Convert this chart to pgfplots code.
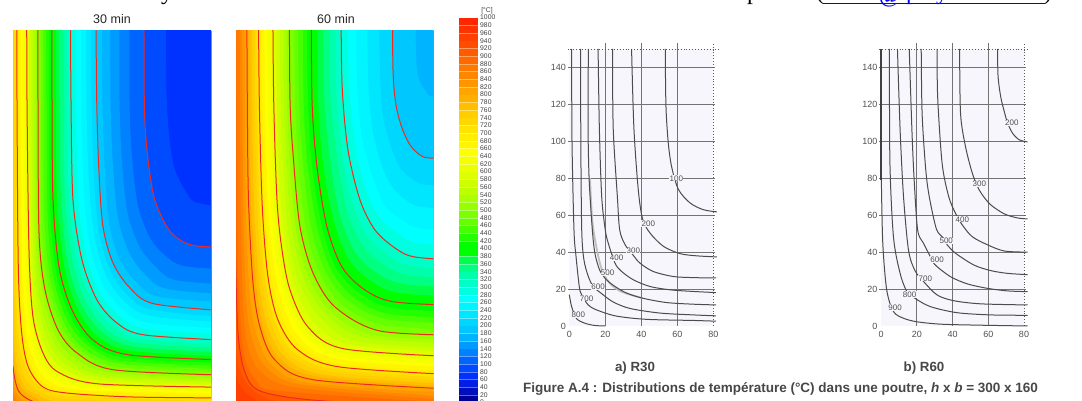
\documentclass[border=0pt]{standalone}
\usepackage{fontspec}
\setmainfont{Liberation Sans}
\newfontfamily\serifb{Liberation Serif}
\usepackage{pgfplots}
\pgfplotsset{compat=1.18}
\definecolor{c0}{RGB}{0,0,150}\definecolor{c20}{RGB}{0,15,190}\definecolor{c40}{RGB}{0,30,230}\definecolor{c60}{RGB}{0,50,255}\definecolor{c80}{RGB}{0,75,255}
\definecolor{c100}{RGB}{0,100,255}\definecolor{c120}{RGB}{0,130,255}\definecolor{c140}{RGB}{0,155,255}\definecolor{c160}{RGB}{0,180,255}\definecolor{c180}{RGB}{0,200,255}
\definecolor{c200}{RGB}{0,215,255}\definecolor{c220}{RGB}{0,230,255}\definecolor{c240}{RGB}{0,245,255}\definecolor{c260}{RGB}{0,255,255}\definecolor{c280}{RGB}{0,255,225}
\definecolor{c300}{RGB}{0,255,200}\definecolor{c320}{RGB}{0,255,170}\definecolor{c340}{RGB}{0,255,130}\definecolor{c360}{RGB}{0,255,70}\definecolor{c380}{RGB}{0,255,0}
\definecolor{c400}{RGB}{0,255,0}\definecolor{c420}{RGB}{35,255,0}\definecolor{c440}{RGB}{70,255,0}\definecolor{c460}{RGB}{100,255,0}\definecolor{c480}{RGB}{125,255,0}
\definecolor{c500}{RGB}{150,255,0}\definecolor{c520}{RGB}{172,255,0}\definecolor{c540}{RGB}{190,255,0}\definecolor{c560}{RGB}{205,255,0}\definecolor{c580}{RGB}{222,255,0}
\definecolor{c600}{RGB}{235,255,0}\definecolor{c620}{RGB}{245,255,0}\definecolor{c640}{RGB}{255,255,0}\definecolor{c660}{RGB}{255,245,0}\definecolor{c680}{RGB}{255,238,0}
\definecolor{c700}{RGB}{255,228,0}\definecolor{c720}{RGB}{255,215,0}\definecolor{c740}{RGB}{255,205,0}\definecolor{c760}{RGB}{255,190,0}\definecolor{c780}{RGB}{255,175,0}
\definecolor{c800}{RGB}{255,165,0}\definecolor{c820}{RGB}{255,150,0}\definecolor{c840}{RGB}{255,135,0}\definecolor{c860}{RGB}{255,120,0}\definecolor{c880}{RGB}{255,105,0}
\definecolor{c900}{RGB}{255,90,0}\definecolor{c920}{RGB}{255,77,0}\definecolor{c940}{RGB}{255,64,0}\definecolor{c960}{RGB}{255,50,0}\definecolor{c980}{RGB}{255,38,0}
\definecolor{redline}{RGB}{238,42,30}
\definecolor{scan}{RGB}{80,80,80}
\definecolor{paperb}{RGB}{246,246,252}
% filled isotherms: colour, x at the top, y at the right, points between
\newcommand\iA[4]{\addplot[fill=#1,draw=none,smooth] coordinates {(#2,-60)(#2,-20)#4(240,#3)(300,#3)(300,700)(-100,700)(-100,-60)};}
\newcommand\lA[4]{\iA{#1}{#2}{#3}{#4}\addplot[redline,line width=1pt,smooth] coordinates {(#2,-20)#4(240,#3)};}
\newcommand\iB[4]{\addplot[fill=#1,draw=none,smooth] coordinates {(#2,-60)(#2,-20)#4(470,#3)(530,#3)(530,700)(200,700)(200,-60)};}
\newcommand\lB[4]{\iB{#1}{#2}{#3}{#4}\addplot[redline,line width=1pt,smooth] coordinates {(#2,-20)#4(470,#3)};}
\newcommand\band[3]{\addplot[fill=#1,draw=none] coordinates {(0,#2)(1,#2)(1,#3)(0,#3)};\addplot[white,opacity=.4,line width=.5pt] coordinates {(0,#3)(1,#3)};}
\pgfplotsset{
 panel/.style={scale only axis,xtick=\empty,ytick=\empty,y dir=reverse,anchor=south west,
   axis line style={gray!80,line width=.6pt}},
 scanaxis/.style={scale only axis,anchor=south west,xmin=0,xmax=80,ymin=0,ymax=150,clip=false,
   axis x line=bottom,axis y line=left,axis line style={-,scan,line width=1pt},
   xtick={0,20,40,60,80},ytick={0,20,40,60,80,100,120,140},major tick length=0pt,
   tick label style={font=\fontsize{9}{10}\selectfont,text=scan},
   xticklabel style={yshift=-2pt},
   /pgf/number format/assume math mode=true},
}
\tikzset{
 ctr/.style={draw=black!70,line width=1pt,smooth},
 gl/.style={draw=black!55,line width=1pt},
 dl/.style={draw=black!65,line width=.9pt,dotted},
 lab/.style={font=\fontsize{8}{9}\selectfont,text=scan,fill=paperb,inner sep=.3pt},
}
\begin{document}
\begin{tikzpicture}[x=1pt,y=1pt]
\useasboundingbox (0,0) rectangle (1082,401);
% ---------- 30 min
\begin{axis}[panel,at={(13pt,0pt)},width=198pt,height=370pt,xmin=13,xmax=211,ymin=31,ymax=401]
\addplot[fill=c60,draw=none] coordinates {(0,0)(300,0)(300,500)(0,500)};
\iA{c80}{165.7}{208}{(166.7,100)(173,163)(186.7,193)(198,203)}
\lA{c100}{144}{248}{(144.3,100)(147,150)(154,197)(167,227)(180,240)(197,246)}
\iA{c120}{129.3}{270}{(129.5,100)(132,157)(138,206)(150,238)(164.5,255)(184,266)}
\iA{c140}{119.3}{285}{(119.5,100)(122,162)(127.5,213)(139,246)(154,265)(175,280)}
\iA{c160}{110}{295}{(110.5,100)(113,166)(118,218)(129,252.5)(144.5,274)(167,289)}
\iA{c180}{101.7}{303}{(102.4,100)(104.8,170)(109,223)(119.5,259)(136,282)(160,297)}
\lA{c200}{95.7}{312}{(96.7,100)(99,173)(103,227)(113,263)(130,288)(155,304)}
\iA{c220}{91}{318}{(91.5,100)(94,178)(99,234)(110,270)(127,295)(153,310)}
\iA{c240}{86}{323.5}{(86.4,100)(89,184)(95,240)(107,278)(125,302)(151,316)}
\iA{c260}{81}{329.5}{(81.3,100)(83.5,189)(90,247)(103,285)(122,309)(149,323)}
\iA{c280}{76}{335}{(76.2,100)(78,195)(86,253)(100,293)(120,316)(147,329)}
\lA{c300}{70.3}{341}{(71,100)(73,200)(82,260)(97,300)(117,323)(145,335)}
\iA{c320}{66.5}{345}{(67,100)(69,200)(77,261)(92,302)(112,326)(142,339)}
\iA{c340}{63}{349}{(63.5,100)(65,200)(73,263)(87,304)(107,330)(139,343)}
\iA{c360}{59.5}{353}{(59.5,100)(61,200)(68,264)(82,306)(103,333)(136,347)}
\iA{c380}{55.5}{357}{(56,100)(57,200)(64,266)(77,308)(98,337)(133,351)}
\lA{c400}{51.7}{360.5}{(52,100)(53,200)(59,267)(72,310)(93,340)(130,355)}
\iA{c420}{49}{363.5}{(49,100)(50,207)(56,272)(69,314)(90,343)(127,358)}
\iA{c440}{46}{366.5}{(46.5,100)(47.5,213)(53,276)(66,318)(87,345)(124,361)}
\iA{c460}{43}{369.5}{(43.5,100)(44.5,220)(50.5,281)(63.5,322)(83,348)(121,364)}
\iA{c480}{40.5}{372.5}{(41,100)(42,227)(48,285)(61,326)(80,350)(118,367)}
\lA{c500}{37.7}{375.5}{(38,100)(39,233)(45,290)(58,330)(77,353)(115,370)}
\iA{c520}{35.5}{378}{(36,100)(37,236)(43,295)(55,335)(73,357)(112,373)}
\iA{c540}{33.5}{380.5}{(33.5,100)(35,240)(40,301)(52,339)(69,361)(109,376)}
\iA{c560}{31}{383}{(31.5,100)(33,243)(38,306)(49,344)(65,364)(106,378)}
\iA{c580}{29}{385}{(29,100)(31,247)(35,312)(46,348)(62,368)(103,381)}
\lA{c600}{26.7}{387.5}{(27,100)(29,250)(33,317)(43,353)(58,372)(100,384)}
\iA{c620}{24.7}{389.5}{(25,100)(27,253)(31,320)(40,356)(55,375)(95,386)}
\iA{c640}{22.7}{391.5}{(23,100)(25,257)(29,323)(37,359)(52,378)(90,388)}
\iA{c660}{20.7}{393.5}{(21,100)(22,260)(26,327)(34,361)(49,381)(85,390)}
\iA{c680}{18.7}{396}{(19,100)(20,264)(24,330)(31,364)(46,384)(80,391.5)}
\lA{c700}{16.7}{398}{(17,100)(18.3,267)(21.7,333)(28.3,367)(43,387)(66.7,393)(133,397)}
\iA{c720}{15.5}{402}{(15.5,100)(16,280)(19,340)(25,365)(34,382)(50,391)(72,396)}
\iA{c740}{14}{406}{(14,100)(14.5,295)(17,345)(22,370)(30,385)(45,394)(70,399)}
\iA{c760}{12}{410}{(12.2,200)(12.5,300)(14.5,350)(19,374)(26,388)(40,396)(65,402)}
\iA{c780}{11}{412}{(11.2,200)(11.5,330)(13.5,358)(17,378)(23,390)(36,398)(60,404)}
\lA{c800}{10}{415}{(10.5,340)(13,367)(15.7,383)(20,393)(32,401)(60,408)}
\iA{c820}{10}{420}{(10,345)(13,378)(16,392)(24,401)(50,410)}
\iA{c840}{10}{425}{(10,375)(13,392)(19,402)(40,412)}
\end{axis}
% ---------- 60 min
\begin{axis}[panel,at={(236pt,0pt)},width=197.5pt,height=370pt,xmin=236,xmax=433.5,ymin=31,ymax=401]
\addplot[fill=c160,draw=none] coordinates {(200,0)(500,0)(500,500)(200,500)};
\iB{c180}{415}{98}{(416.7,67)(425,90)(433.7,97)}
\lB{c200}{392.3}{159}{(393,70)(396,105)(402,128)(410,145)(420,155)(430,158)}
\iB{c220}{378.5}{186}{(380,73)(383,117)(391,147)(400,168)(413,180)(426,185)}
\iB{c240}{367}{210}{(368,76)(372,127)(381,164)(392,187)(407,201)(422,207)}
\iB{c260}{356}{232}{(357,79)(362,137)(373,178)(385,206)(402,220)(419,228)}
\iB{c280}{348}{247}{(349,81)(355,144)(366,190)(380,218)(399,234)(417,243)}
\lB{c300}{341}{261}{(342,83)(348,150)(360,200)(375,230)(395,248)(415,257)}
\iB{c320}{335}{270}{(336,86)(342,153)(353,205)(368,237)(389,256)(411,266)}
\iB{c340}{329}{279}{(330,90)(337,157)(347,211)(362,244)(383,264)(407,275)}
\iB{c360}{323}{288}{(324,93)(330,160)(340,216)(355,252)(377,273)(403,284)}
\iB{c380}{317}{297}{(318,97)(323,164)(334,222)(349,260)(371,281)(399,293)}
\lB{c400}{311.3}{306}{(312,100)(317,167)(327,227)(342,267)(365,290)(395,302)}
\iB{c420}{307}{312}{(308,100)(312,166)(322,227)(336,268)(359,293)(392,308)}
\iB{c440}{302.5}{318}{(303.5,100)(307.5,164)(317,227)(331,270)(353,297)(389,314)}
\iB{c460}{298}{324}{(299,100)(303,163)(311,227)(325,271)(347,300)(386,319)}
\iB{c480}{294}{330}{(295,100)(298,161)(305.5,227)(319,272)(341,304)(383,325)}
\lB{c500}{289.3}{335.5}{(290,100)(293.5,160)(300,227)(313,273)(335,307)(380,331)}
\iB{c520}{286}{340}{(287,100)(290,168)(296,231)(308,276)(330,311)(373,335)}
\iB{c540}{283}{344}{(284,100)(287,176)(293,236)(304,280)(326,315)(366,338)}
\iB{c560}{279.5}{349}{(280.5,100)(284,184)(289,240)(299,283)(321,319)(359,342)}
\iB{c580}{276}{353}{(277,100)(280,192)(285.5,245)(294.5,286)(314,323)(352,345)}
\lB{c600}{272.7}{357.5}{(273.7,100)(277,200)(282,250)(290,290)(308,327)(345,349)}
\iB{c620}{270}{361}{(271,100)(274,201)(279,255)(288,296)(306,331)(344,353)}
\iB{c640}{267}{365}{(268,100)(271,203)(276.5,260)(286,302)(304,336)(343,357)}
\iB{c660}{264}{368}{(265,100)(268,204)(274,266)(284,308)(302,341)(342,360)}
\iB{c680}{261}{372}{(262,100)(265,206)(271,271)(281,314)(300,345)(341,364)}
\lB{c700}{258.3}{375.5}{(259.3,100)(262.3,207)(268,277)(278,320)(298,350)(340,367)}
\iB{c720}{256}{379}{(257,100)(259.5,205)(265,278)(274.5,321)(293,352)(335,369)}
\iB{c740}{254}{382}{(254.5,100)(257,203)(262,280)(271,323)(288,354)(330,372)}
\iB{c760}{251.5}{385}{(252,100)(254,202)(259,281)(267,325)(284,356)(325,375)}
\iB{c780}{249}{388}{(249.5,100)(251,201)(256,282)(263,326)(279,358)(320,377)}
\lB{c800}{246.7}{390}{(247.3,100)(248.5,200)(253,283)(260,327)(275,360)(315,380)}
\iB{c820}{244.5}{394}{(245,100)(246,215)(250,297)(257,336)(271,364)(310,383)}
\iB{c840}{242}{398}{(242.5,100)(243.5,225)(247,310)(254,345)(267,368)(305,385)}
\iB{c860}{239.5}{401}{(240,100)(241,235)(244,320)(250,353)(262,373)(300,388)}
\iB{c880}{236}{404}{(236.5,100)(237.5,250)(241,330)(246,362)(257,381)(280,391)}
\lB{c900}{233}{409}{(233.5,100)(234.5,200)(235.7,267)(238,333)(243.3,367)(253.3,387)(275,395)(325,401)}
\iB{c920}{231}{414}{(231,200)(235.5,340)(240,370)(248,385)(262,396)(290,402)}
\iB{c940}{231}{416}{(231,300)(236,372)(242,388)(255,399)(280,405)}
\end{axis}
% ---------- colour scale
\begin{axis}[scale only axis,anchor=south west,at={(459pt,-1.6pt)},width=19pt,height=385pt,xmin=0,xmax=1,ymin=0,ymax=1000,
  axis line style={draw=none},xtick=\empty,ytick={0,20,...,1000},yticklabel pos=right,major tick length=0pt,
  scaled y ticks=false,
  yticklabel style={font=\fontsize{6.8}{7}\selectfont,text=black!75,xshift=1pt,anchor=west,inner sep=1pt},
  /pgf/number format/assume math mode=true,/pgf/number format/1000 sep={}]
\band{c0}{0}{20}\band{c20}{20}{40}\band{c40}{40}{60}\band{c60}{60}{80}\band{c80}{80}{100}
\band{c100}{100}{120}\band{c120}{120}{140}\band{c140}{140}{160}\band{c160}{160}{180}\band{c180}{180}{200}
\band{c200}{200}{220}\band{c220}{220}{240}\band{c240}{240}{260}\band{c260}{260}{280}\band{c280}{280}{300}
\band{c300}{300}{320}\band{c320}{320}{340}\band{c340}{340}{360}\band{c360}{360}{380}\band{c380}{380}{400}
\band{c400}{400}{420}\band{c420}{420}{440}\band{c440}{440}{460}\band{c460}{460}{480}\band{c480}{480}{500}
\band{c500}{500}{520}\band{c520}{520}{540}\band{c540}{540}{560}\band{c560}{560}{580}\band{c580}{580}{600}
\band{c600}{600}{620}\band{c620}{620}{640}\band{c640}{640}{660}\band{c660}{660}{680}\band{c680}{680}{700}
\band{c700}{700}{720}\band{c720}{720}{740}\band{c740}{740}{760}\band{c760}{760}{780}\band{c780}{780}{800}
\band{c800}{800}{820}\band{c820}{820}{840}\band{c840}{840}{860}\band{c860}{860}{880}\band{c880}{880}{900}
\band{c900}{900}{920}\band{c920}{920}{940}\band{c940}{940}{960}\band{c960}{960}{980}\band{c980}{980}{1000}
\end{axis}
% ---------- R30
\begin{axis}[scanaxis,at={(569.3pt,75pt)},width=144pt,height=277pt]
\addplot[fill=paperb,draw=none] coordinates {(0,0)(80,0)(80,150)(0,150)};
\addplot[gl] coordinates {(-1,20)(81,20)};\addplot[gl] coordinates {(-1,40)(81,40)};\addplot[gl] coordinates {(-1,60)(81,60)};
\addplot[gl] coordinates {(-1,80)(81,80)};\addplot[gl] coordinates {(-1,100)(81,100)};\addplot[gl] coordinates {(-1,120)(81,120)};\addplot[gl] coordinates {(-1,140)(81,140)};
\addplot[gl] coordinates {(20,0)(20,153)};\addplot[gl] coordinates {(40,0)(40,153)};\addplot[gl] coordinates {(60,0)(60,153)};
\addplot[dl] coordinates {(80,0)(80,153)};\addplot[dl] coordinates {(-1,150)(83,150)};
\addplot[black!25,line width=1.8pt,smooth] coordinates {(11.5,80)(13,55)(17,34)(21,25)(28,19)(41,15)};
\addplot[ctr] coordinates {(53.3,150)(53.7,119)(55,99)(56.9,86)(60.6,74)(67,66.7)(74.4,63)(82,61.8)};
\addplot[ctr] coordinates {(34.6,150)(35.9,107)(38.3,74)(40.7,58)(44.8,50.4)(52.2,43.2)(61.5,39.2)(70.7,38)(82,37.4)};
\addplot[ctr] coordinates {(24,150)(24.4,107)(26.7,70)(28,52)(31,44)(35.2,38.7)(39.3,34)(46.7,29.5)(57.8,26.8)(68.9,26.2)(81.5,26)};
\addplot[ctr] coordinates {(16,150)(16.7,107)(18,70)(20,52)(21.6,45)(25.4,34)(29,29.6)(35.6,25)(44.8,21.4)(55.9,19.6)(68.9,18.7)(81.5,18.1)};
\addplot[ctr] coordinates {(10.6,150)(10.4,110)(11,80)(12.8,52)(14.3,39)(17,30)(20.7,25)(25.4,21.4)(31.9,17.8)(41,15)(54,12.7)(68.9,11.8)(81.5,11.4)};
\addplot[ctr] coordinates {(6.3,150)(6.4,100)(6.9,52)(8.1,36)(10.5,27)(13.3,21.4)(18,17.5)(24.4,13)(33.7,9.5)(50.4,7)(69,6)(81.5,5.5)};
\addplot[ctr] coordinates {(1.3,150)(1.5,100)(2.6,52)(3.7,38)(5.6,21)(6.9,17)(10.5,11.4)(15.2,8.7)(26,5.4)(43,3.6)(69,3)(81.5,2.6)};
\addplot[ctr] coordinates {(0,17)(1.3,10.5)(4,4)(8.7,1.5)(14,.3)(20,0)};
\node[lab] at (axis cs:59.5,80) {100};
\node[lab] at (axis cs:43.9,55.5) {200};
\node[lab] at (axis cs:35.6,40.8) {300};
\node[lab] at (axis cs:26.3,36.8) {400};
\node[lab] at (axis cs:21.3,28.7) {500};
\node[lab] at (axis cs:16,21) {600};
\node[lab] at (axis cs:9.6,15) {700};
\node[lab] at (axis cs:5,6) {800};
\end{axis}
% ---------- R60
\begin{axis}[scanaxis,at={(881pt,75pt)},width=143pt,height=277pt]
\addplot[fill=paperb,draw=none] coordinates {(0,0)(80,0)(80,150)(0,150)};
\addplot[gl] coordinates {(-1,20)(81,20)};\addplot[gl] coordinates {(-1,40)(81,40)};\addplot[gl] coordinates {(-1,60)(81,60)};
\addplot[gl] coordinates {(-1,80)(81,80)};\addplot[gl] coordinates {(-1,100)(81,100)};\addplot[gl] coordinates {(-1,120)(81,120)};\addplot[gl] coordinates {(-1,140)(81,140)};
\addplot[gl] coordinates {(20,0)(20,153)};\addplot[gl] coordinates {(40,0)(40,153)};\addplot[gl] coordinates {(60,0)(60,153)};
\addplot[dl] coordinates {(80,0)(80,153)};\addplot[dl] coordinates {(-1,150)(83,150)};
\addplot[ctr] coordinates {(65.2,150)(65.5,135)(67,124)(69,116)(70.8,110)(73.6,104.4)(77.4,100.8)(82,99.7)};
\addplot[ctr] coordinates {(44,150)(44.5,115)(47.3,97)(51,83)(54,75.5)(56.7,71)(61.4,65.6)(69,60.7)(76.4,58.5)(82,58)};
\addplot[ctr] coordinates {(31.4,150)(31.7,124)(34.2,88)(37.9,70)(41.7,61)(45.5,54.7)(51,48.4)(59.5,44)(69,40.6)(82,40)};
\addplot[ctr] coordinates {(22.5,150)(23,115)(25,85)(27,70)(31,52.5)(34.6,48)(37,44)(41.7,39.4)(52,33)(61.4,30)(70.8,28.5)(82,27.8)};
\addplot[ctr] coordinates {(15.8,150)(17.3,106)(18.5,80)(20.5,52)(23.8,44.8)(27.6,37.6)(30.4,33)(38.9,26.7)(48.3,22.8)(59.5,20.4)(70.8,19)(82,18.6)};
\addplot[ctr] coordinates {(9.2,150)(10.7,106)(12.6,70)(15.4,41)(19,30)(23.9,24)(31.4,16.8)(40.7,13.7)(55.8,12)(82,11.4)};
\addplot[ctr] coordinates {(4.7,150)(5,88)(7,48)(10.7,28.5)(14.5,18.6)(19,15)(27.6,10.5)(42.6,7.2)(61.4,6)(82,5.8)};
\addplot[ctr] coordinates {(.2,79)(1,44.8)(3.2,19.5)(7,7.8)(12.6,4.2)(20,2.3)(33.2,1)(52,.5)(82,0)};
\addplot[black!75,line width=1.4pt] coordinates {(0,79)(0,150)};
\node[lab] at (axis cs:73.2,110) {200};
\node[lab] at (axis cs:55,77) {300};
\node[lab] at (axis cs:45.5,57.8) {400};
\node[lab] at (axis cs:36.5,46) {500};
\node[lab] at (axis cs:31.4,36) {600};
\node[lab] at (axis cs:24.8,25.8) {700};
\node[lab] at (axis cs:16,17) {800};
\node[lab] at (axis cs:7.9,10) {900};
\end{axis}
% ---------- texts
\node[font=\fontsize{12.5}{14}\selectfont,text=black!85] at (112,382) {30 min};
\node[font=\fontsize{12.5}{14}\selectfont,text=black!85] at (336,382) {60 min};
\node[font=\fontsize{6.8}{7}\selectfont,text=black!75] at (487,390.3) {[°C]};
\node[font=\fontsize{13.3}{15}\selectfont\bfseries,text=black!72] at (635,33) {a) R30};
\node[font=\fontsize{13.3}{15}\selectfont\bfseries,text=black!72] at (924,33) {b) R60};
\node[anchor=center,text=black!72] at (780.5,12) {\resizebox{515pt}{!}{\fontsize{13}{15}\selectfont\bfseries Figure A.4 : Distributions de température (°C) dans une poutre, \textit{h} x \textit{b} = 300 x 160}};
% ---------- fragments of the line above
\node[anchor=base,font=\serifb\fontsize{24}{26}\selectfont,inner sep=0pt] at (167,401) {y};
\node[anchor=base,font=\serifb\fontsize{24}{26}\selectfont,inner sep=0pt] at (753,401) {p};
\node[anchor=base,font=\serifb\fontsize{24}{26}\selectfont,inner sep=0pt] at (820,401) {(};
\node[anchor=base,font=\serifb\fontsize{24}{26}\selectfont,inner sep=0pt] at (1048,401) {)};
\node[anchor=base,font=\serifb\fontsize{24}{26}\selectfont,inner sep=0pt,text=blue] at (890,398) {@};
\node[anchor=base,font=\serifb\fontsize{24}{26}\selectfont,inner sep=0pt,text=blue] at (912,401) {p};
\node[anchor=base,font=\serifb\fontsize{24}{26}\selectfont,inner sep=0pt,text=blue] at (942,401) {y};
\draw[blue,line width=.9pt] (823,397.4)--(1045,397.4);
\end{tikzpicture}
\end{document}
